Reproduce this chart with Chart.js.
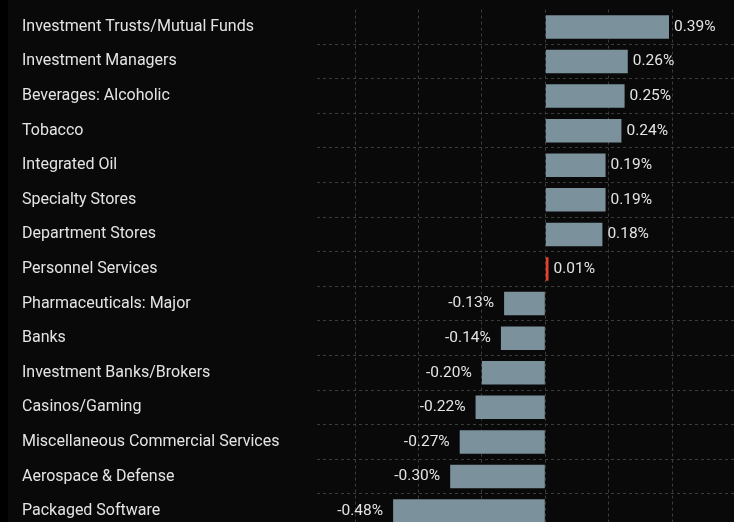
<!DOCTYPE html>
<html>
<head>
<meta charset="utf-8">
<script src="https://cdn.jsdelivr.net/npm/chart.js@4"></script>
<style>
  html, body { margin: 0; padding: 0; overflow: hidden; }
  body { width: 734px; height: 522px; background: linear-gradient(to right, #000 0, #000 8px, #090909 8px); }
  #wrap { position: relative; width: 734px; height: 538px; }
</style>
</head>
<body>
<div id="wrap"><canvas id="sectorChart"></canvas></div>
<script>
// sectors and their moves (%)
const sectors = [
  "Investment Trusts/Mutual Funds",
  "Investment Managers",
  "Beverages: Alcoholic",
  "Tobacco",
  "Integrated Oil",
  "Specialty Stores",
  "Department Stores",
  "Personnel Services",
  "Pharmaceuticals: Major",
  "Banks",
  "Investment Banks/Brokers",
  "Casinos/Gaming",
  "Miscellaneous Commercial Services",
  "Aerospace & Defense",
  "Packaged Software"
];
const changes = [0.39, 0.26, 0.25, 0.24, 0.19, 0.19, 0.18, 0.01, -0.13, -0.14, -0.20, -0.22, -0.27, -0.30, -0.48];
const highlighted = ["Personnel Services"];

const barColor = "#7b919c";
const hiColor = "#e8412f";
const textColor = "#e4e4e4";
const fontFamily = "Roboto, 'Noto Sans', sans-serif";

// draw the value labels next to each bar
const valueLabels = {
  id: "valueLabels",
  afterDatasetsDraw(chart) {
    const ctx = chart.ctx;
    const meta = chart.getDatasetMeta(0);
    ctx.save();
    ctx.font = "15.5px " + fontFamily;
    ctx.fillStyle = textColor;
    ctx.textBaseline = "middle";
    meta.data.forEach((bar, i) => {
      const v = changes[i];
      const txt = v.toFixed(2) + "%";
      if (v >= 0) {
        ctx.textAlign = "left";
        ctx.fillText(txt, bar.x + 5, bar.y);
      } else {
        ctx.textAlign = "right";
        ctx.fillText(txt, bar.x - 10, bar.y);
      }
    });
    ctx.restore();
  }
};

const ctx = document.getElementById("sectorChart").getContext("2d");
const sectorChart = new Chart(ctx, {
  type: "bar",
  data: {
    labels: sectors,
    datasets: [
      {
        data: changes,
        backgroundColor: sectors.map((s) => (highlighted.includes(s) ? hiColor : barColor)),
        borderWidth: 0,
        barPercentage: 0.85,
        categoryPercentage: 0.8
      }
    ]
  },
  options: {
    indexAxis: "y",
    responsive: true,
    maintainAspectRatio: false,
    animation: false,
    layout: { padding: { top: 4.5, left: 22, right: 0, bottom: 0 } },
    plugins: { legend: { display: false }, tooltip: { enabled: false } },
    scales: {
      x: {
        min: -0.72,
        max: 0.595,
        ticks: { display: false, stepSize: 0.2, includeBounds: false },
        grid: { color: "#3c3c3c", drawTicks: false, lineWidth: 1 },
        border: { display: false, dash: [3, 3] }
      },
      y: {
        afterFit(scale) { scale.width = 295; },
        ticks: {
          crossAlign: "far",
          color: textColor,
          font: { size: 16, family: fontFamily },
          padding: 0
        },
        grid: {
          drawTicks: false,
          color: (c) => (c.index === 0 ? "rgba(0,0,0,0)" : "#3c3c3c")
        },
        border: { display: false, dash: [3, 3] }
      }
    }
  },
  plugins: [valueLabels]
});
</script>
</body>
</html>
